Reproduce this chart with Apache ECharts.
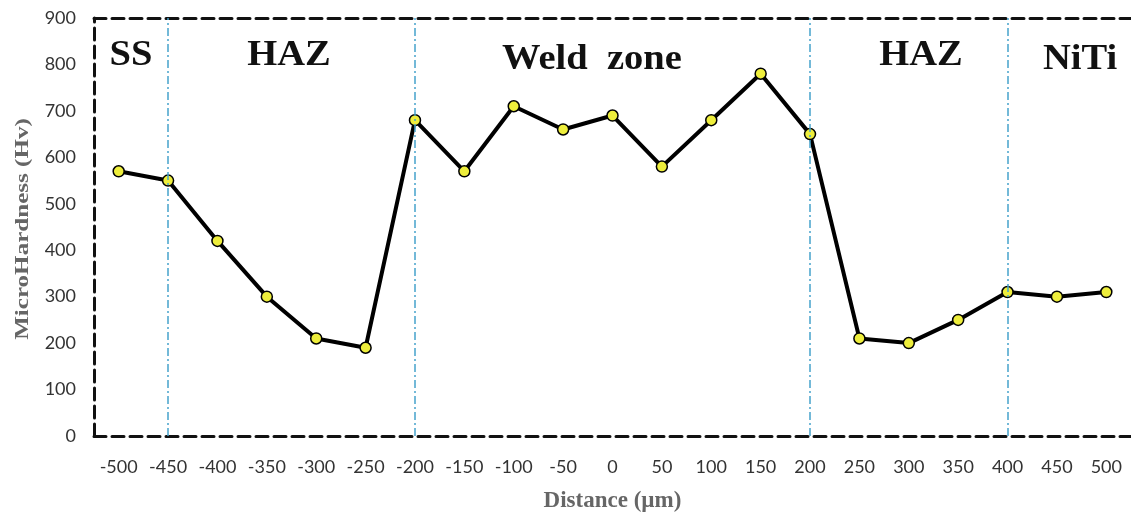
<!DOCTYPE html>
<html><head><meta charset="utf-8">
<script src="https://cdn.jsdelivr.net/npm/echarts@6/dist/echarts.min.js"></script>
<style>html,body{margin:0;padding:0;background:#fff}#c{width:1131px;height:518px}</style>
</head><body><div id="c"></div>
<script>
const categories = ['-500','-450','-400','-350','-300','-250','-200','-150','-100','-50','0','50','100','150','200','250','300','350','400','450','500'];
const hardness = [570,550,420,300,210,190,680,570,710,660,690,580,680,780,650,210,200,250,310,300,310];
const boundaries = ['-450','-200','200','400'];
const zoneLabels = ['SS','HAZ','Weld  zone','HAZ','NiTi'];
const yTicks = {min:0, max:900, interval:100};
const yName = 'MicroHardness (Hv)';
const xName = 'Distance (µm)';

const chart = echarts.init(document.getElementById('c'));
const zonePos = [[131,56],[289,56],[592,60],[921,56],[1080,60]];
const dashed = {show:true, lineStyle:{color:'#111', width:3, type:[12,6]}};
chart.setOption({
  animation:false,
  grid:{left:94, top:18, width:1039, bottom:80, show:false},
  xAxis:[{type:'category', data:categories, boundaryGap:true,
    axisLine:dashed, axisTick:{show:false},
    axisLabel:{color:'#333', fontFamily:'Lato', fontSize:18, margin:22, interval:0},
    name:xName, nameLocation:'middle', nameGap:54,
    nameTextStyle:{color:'#666', fontFamily:'Liberation Serif', fontWeight:'bold', fontSize:23}},
   {type:'category', data:categories, position:'top', boundaryGap:true,
    axisLine:dashed, axisTick:{show:false}, axisLabel:{show:false}}],
  yAxis:{type:'value', min:yTicks.min, max:yTicks.max, interval:yTicks.interval,
    axisLine:dashed, axisTick:{show:false}, splitLine:{show:false},
    axisLabel:{color:'#333', fontFamily:'Lato', fontSize:18, margin:18}},
  graphic: zoneLabels.map((t,i)=>({type:'text', x:zonePos[i][0], y:zonePos[i][1], scaleX:1.07,
    style:{text:t, fill:'#111', font:'bold 36px "Liberation Serif"', textAlign:'center', textVerticalAlign:'middle'}}))
    .concat([{type:'text', x:23, y:229, rotation:Math.PI/2, scaleX:1.32,
      style:{text:yName, fill:'#666', font:'bold 19px "Liberation Serif"', textAlign:'center', textVerticalAlign:'middle'}}]),
  series:[{type:'line', data:hardness, symbol:'circle', symbolSize:11,
    lineStyle:{color:'#000', width:4},
    itemStyle:{color:'#eeee3c', borderColor:'#000', borderWidth:1.5},
    markLine:{silent:true, symbol:'none', label:{show:false},
      lineStyle:{color:'#45a3cc', width:1.5, type:[8,3,2,3]},
      data: boundaries.map(b=>({xAxis:b}))},
    z:3}]
});
</script></body></html>
